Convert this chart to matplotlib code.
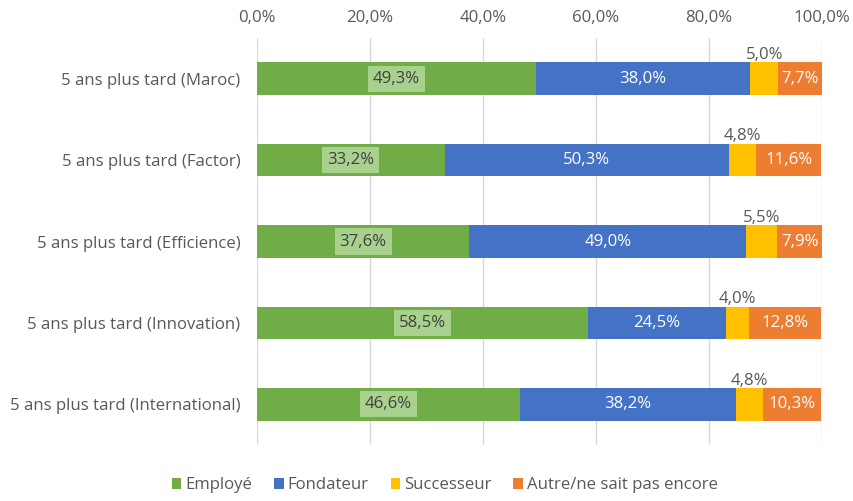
import matplotlib
matplotlib.use("Agg")
import matplotlib.pyplot as plt
import numpy as np

plt.rcParams['font.family'] = ['Open Sans', 'DejaVu Sans']

categories = ["5 ans plus tard (Maroc)", "5 ans plus tard (Factor)", "5 ans plus tard (Efficience)",
              "5 ans plus tard (Innovation)", "5 ans plus tard (International)"]
employe = [49.3, 33.2, 37.6, 58.5, 46.6]
fondateur = [38.0, 50.3, 49.0, 24.5, 38.2]
successeur = [5.0, 4.8, 5.5, 4.0, 4.8]
autre = [7.7, 11.6, 7.9, 12.8, 10.3]
series_names = ["Employé", "Fondateur", "Successeur", "Autre/ne sait pas encore"]
colors = ["#70AD47", "#4472C4", "#FFC000", "#ED7D31"]
xticks = [0, 20, 40, 60, 80, 100]

def fmt(v):
    return f"{v:.1f}".replace(".", ",") + "%"

FS = 12.1
fig = plt.figure(figsize=(8.54, 5.01), dpi=100)
ax = fig.add_axes([257/854, 1-445/501, (822-257)/854, (445-38)/501])

y = np.arange(len(categories))
left = np.zeros(len(categories))
data = [employe, fondateur, successeur, autre]
txtc = "#595959"
for i, (vals, name, c) in enumerate(zip(data, series_names, colors)):
    vals = np.array(vals)
    ax.barh(y, vals, left=left, height=0.4, color=c, label=name, zorder=2)
    for j, v in enumerate(vals):
        cx = left[j] + v / 2
        if i == 0:
            ax.text(cx, y[j], fmt(v), ha="center", va="center", fontsize=FS, color="#404040",
                    bbox=dict(boxstyle="square,pad=0.3", fc="#A9D18E", ec="none"), zorder=3)
        elif i == 2:
            ax.text(cx, y[j] - 0.29, fmt(v), ha="center", va="center", fontsize=FS, color=txtc, zorder=3)
        else:
            ax.text(cx, y[j], fmt(v), ha="center", va="center", fontsize=FS, color="white", zorder=3)
    left += vals

ax.set_xlim(0, 100)
ax.set_ylim(4.5, -0.5)
ax.set_yticks(y)
ax.set_yticklabels(categories, fontsize=FS, color=txtc)
ax.set_xticks(xticks)
ax.set_xticklabels([fmt(t) for t in xticks], fontsize=FS, color=txtc)
ax.xaxis.tick_top()
ax.tick_params(axis="y", length=0, pad=12)
ax.tick_params(axis="x", length=0, pad=9)
ax.grid(axis="x", color="#D9D9D9", linewidth=1, zorder=0)
for s in ax.spines.values():
    s.set_visible(False)

leg = fig.legend(loc="lower center", bbox_to_anchor=(445/854, -0.015), ncol=4, frameon=False,
                 fontsize=FS, handlelength=0.55, handleheight=0.55, handletextpad=0.25, columnspacing=1.3)
for t in leg.get_texts():
    t.set_color(txtc)

fig.savefig("out.png", dpi=100)
